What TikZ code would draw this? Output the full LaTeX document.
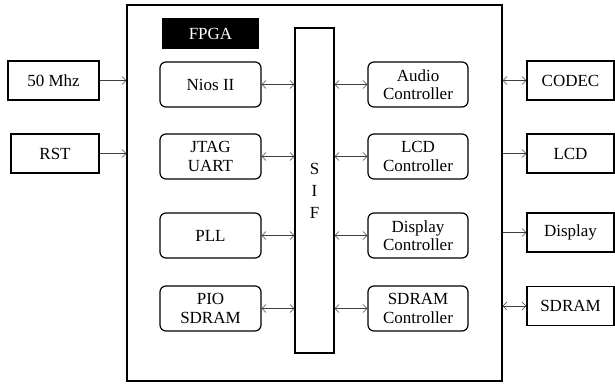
\documentclass[tikz,border=0pt]{standalone}
\usepackage{fontspec}
\setmainfont{Liberation Serif}
\usetikzlibrary{arrows.meta}
\begin{document}
\begin{tikzpicture}[x=1pt,y=-1pt,
  font=\fontsize{17}{18.5}\selectfont,
  blk/.style={draw,line width=1.2pt,inner sep=2pt},
  ext/.style={blk,minimum height=39pt},
  core/.style={blk,rounded corners=6pt,minimum width=101pt,minimum height=45pt,align=center},
  sig/.style={line width=0.6pt,draw=black!75,-{Straight Barb[length=4pt,width=8pt]}},
  bus/.style={sig,{Straight Barb[length=4pt,width=8pt]}-{Straight Barb[length=4pt,width=8pt]}}]
\useasboundingbox (0,0) rectangle (615,383);
\node[blk,minimum width=375pt,minimum height=376pt] (fpga) at (314.5,193) {};
\node[fill=black,text=white,minimum width=97pt,minimum height=31pt] (title) at (210.5,33.5) {FPGA};
\node[blk,minimum width=39pt,minimum height=325pt,align=center,font=\fontsize{17}{22}\selectfont] (sif) at (314.5,190.5) {S\\I\\F};
\node[core] (nios) at (210.5,84.5) {Nios II};
\node[core] (jtag) at (210.5,156.5) {JTAG\\UART};
\node[core] (pll) at (210.5,235.5) {PLL};
\node[core] (pio) at (210.5,308.5) {PIO\\SDRAM};
\node[core,minimum width=100pt] (audio) at (418,84.5) {Audio\\Controller};
\node[core,minimum width=100pt] (lcdctl) at (418,156.5) {LCD\\Controller};
\node[core,minimum width=100pt] (dispctl) at (418,235.5) {Display\\Controller};
\node[core,minimum width=100pt] (sdramctl) at (418,308.5) {SDRAM\\Controller};
\node[ext,minimum width=91pt] (clk) at (53.5,80.5) {50 Mhz};
\node[ext,minimum width=88pt] (rst) at (55,153.5) {RST};
\node[ext,minimum width=87pt] (codec) at (570.5,80.5) {CODEC};
\node[ext,minimum width=87pt] (lcd) at (570.5,153.5) {LCD};
\node[ext,minimum width=87pt] (display) at (570.5,232.5) {Display};
\node[ext,minimum width=87pt] (sdram) at (570.5,306) {SDRAM};
% inputs
\draw[sig] (clk.east) -- (clk.east -| fpga.west);
\draw[sig] (rst.east) -- (rst.east -| fpga.west);
% cores to bus
\foreach \n in {nios,jtag,pll,pio}
  \draw[bus] (\n.east) -- (\n.east -| sif.west);
\foreach \n in {audio,lcdctl,dispctl,sdramctl}
  \draw[bus] (\n.west -| sif.east) -- (\n.west);
% outputs
\draw[bus] (codec.west -| fpga.east) -- (codec.west);
\draw[sig] (lcd.west -| fpga.east) -- (lcd.west);
\draw[sig] (display.west -| fpga.east) -- (display.west);
\draw[bus] (sdram.west -| fpga.east) -- (sdram.west);
\end{tikzpicture}
\end{document}
